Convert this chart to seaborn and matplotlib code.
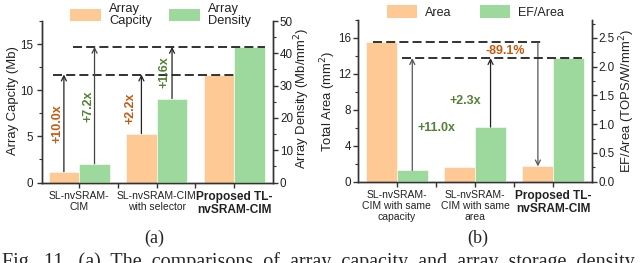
import numpy as np
import pandas as pd
import matplotlib
matplotlib.use("Agg")
import matplotlib.pyplot as plt
import seaborn as sns
from matplotlib.patches import Patch
from matplotlib.ticker import MultipleLocator, FixedLocator

sns.set_style("ticks")
plt.rcParams['font.family'] = ['Liberation Sans', 'DejaVu Sans']

# ---------------- data ----------------
cats_a = ["SL-nvSRAM-\nCIM", "SL-nvSRAM-CIM\nwith selector", "Proposed TL-\nnvSRAM-CIM"]
series_a = ["Array\nCapcity", "Array\nDensity"]
capacity = [1.17, 5.3, 11.7]          # Mb (left axis)
density = [5.8, 26.0, 42.0]           # Mb/mm^2 (right axis)
gain_cap = ["+10.0x", "+2.2x"]
gain_den = ["+7.2x", "+1.6x"]

cats_b = ["SL-nvSRAM-\nCIM with same\ncapacity", "SL-nvSRAM-\nCIM with same\narea", "Proposed TL-\nnvSRAM-CIM"]
series_b = ["Area", "EF/Area"]
area = [15.5, 1.66, 1.70]             # mm^2 (left axis)
ef_area = [0.196, 0.95, 2.15]         # TOPS/W/mm^2 (right axis)
gain_b = ["+11.0x", "+2.3x", "-89.1%"]

ORANGE = "#FFC995"
GREEN = "#9DD99C"
C_OR = "#C55A11"
C_GR = "#548235"
W = 0.79
SP = "#333333"

fig = plt.figure(figsize=(6.4, 2.63), dpi=100)
FW, FH = 640, 263


def px_axes(l, r, t, b):
    return fig.add_axes([l / FW, 1 - b / FH, (r - l) / FW, (b - t) / FH])


def bars(ax, cats, vals, series, k):
    df = pd.DataFrame({"cat": cats, "val": vals, "series": series[k]})
    sns.barplot(data=df, x="cat", y="val", hue="series", hue_order=series,
                order=cats, palette={series[0]: ORANGE, series[1]: GREEN},
                width=W, gap=0, dodge=True, saturation=1, errorbar=None,
                legend=False, edgecolor="white", linewidth=0.4, ax=ax)


def style(ax, ax2, cats, ylim1, ylim2, maj1, min1, maj2, min2, lpad, bold_last=True):
    for a in (ax, ax2):
        a.spines['top'].set_visible(False)
        for s in ('left', 'right', 'bottom'):
            a.spines[s].set_color(SP)
            a.spines[s].set_linewidth(1.0)
        a.set_xlabel("")
        a.set_ylabel("")
    ax.set_xlim(-0.48, 2.5)
    ax.set_ylim(*ylim1)
    ax2.set_ylim(*ylim2)
    ax.yaxis.set_major_locator(MultipleLocator(maj1))
    ax.yaxis.set_minor_locator(MultipleLocator(min1))
    ax2.yaxis.set_major_locator(MultipleLocator(maj2))
    ax2.yaxis.set_minor_locator(MultipleLocator(min2))
    ax.xaxis.set_major_locator(FixedLocator([0, 1, 2]))
    ax.xaxis.set_minor_locator(FixedLocator([0.5, 1.5]))
    ax.set_xticklabels(cats)
    ax.tick_params(axis='y', which='major', direction='out', length=3.5, width=1, color=SP,
                   labelsize=8.4, pad=lpad, labelcolor='#222')
    ax.tick_params(axis='y', which='minor', direction='out', length=2, width=0.8, color=SP, left=True)
    ax2.tick_params(axis='y', which='major', direction='out', length=3.5, width=1, color=SP,
                    labelsize=8.4, pad=1.5, labelcolor='#222')
    ax2.tick_params(axis='y', which='minor', direction='out', length=2, width=0.8, color=SP, right=True)
    ax.tick_params(axis='x', which='major', direction='out', length=3.5, width=1, color=SP,
                   labelsize=7.5, pad=2.5, labelcolor='#222')
    ax.tick_params(axis='x', which='minor', direction='out', length=3.5, width=1, color=SP, bottom=True)
    ax2.tick_params(axis='x', which='both', bottom=False, labelbottom=False)
    labs = ax.get_xticklabels()
    for t in labs:
        t.set_linespacing(1.15)
    if bold_last:
        labs[-1].set_fontweight('bold')
        labs[-1].set_fontsize(8.6)


def dashed(ax, y, x0, x1):
    ax.plot([x0, x1], [y, y], color="#222222", lw=1.3, ls=(0, (5, 2.3)), zorder=5)


def arrow(ax, x, y0, y1, color="#222222"):
    ax.annotate("", xy=(x, y1), xytext=(x, y0),
                arrowprops=dict(arrowstyle="->", lw=0.9, color=color,
                                shrinkA=0, shrinkB=0, mutation_scale=9), zorder=6)


off = W / 4  # half of one bar width: bar centre offset from group centre

# ---------------- panel (a) ----------------
axa = px_axes(42, 273, 21, 182.5)
bars(axa, cats_a, capacity, series_a, 0)
axa2 = axa.twinx()
bars(axa2, cats_a, density, series_a, 1)
style(axa, axa2, cats_a, (0, 17.5), (0, 50), 5, 2.5, 10, 5, 3)

dashed(axa2, density[2], -0.08, 2 + 2 * off)
dashed(axa, capacity[2], -0.335, 2.0)
arrow(axa, 0 - off, capacity[0], capacity[2])
arrow(axa2, 0 + off, density[0], density[2], color="#444444")
arrow(axa, 1 - off, capacity[1], capacity[2])
arrow(axa2, 1 + off, density[1], density[2])
tk = dict(rotation=90, ha='center', va='center', fontsize=9, fontweight='bold', zorder=7)
axa.text(-0.284, 6.4, gain_cap[0], color=C_OR, **tk)
axa.text(0.116, 8.26, gain_den[0], color=C_GR, **tk)
axa.text(0.658, 8.05, gain_cap[1], color=C_OR, **tk)
axa.text(1.097, 11.93, gain_den[1], color=C_GR, **tk)

fig.text(13 / FW, 1 - 101 / FH, "Array Capcity (Mb)", rotation=90, ha='center', va='center',
         fontsize=9.4, color='#222')
fig.text(302 / FW, 1 - 98 / FH, "Array Density (Mb/mm$^2$)", rotation=90, ha='center',
         va='center', fontsize=9.4, color='#222')

hand_a = [Patch(facecolor=ORANGE, edgecolor='none'), Patch(facecolor=GREEN, edgecolor='none')]
lega = fig.legend(hand_a, series_a, loc='upper left', bbox_to_anchor=(70 / FW, 1 - 3 / FH),
                  ncol=2, frameon=False, fontsize=9.3, handlelength=2.4, handleheight=1.12,
                  handletextpad=0.64, columnspacing=1.28, borderpad=0, borderaxespad=0)
for t in lega.get_texts():
    t.set_linespacing(0.95)
    t.set_color('#222')

# ---------------- panel (b) ----------------
axb = px_axes(357.7, 591.7, 20, 181.7)
bars(axb, cats_b, area, series_b, 0)
axb2 = axb.twinx()
bars(axb2, cats_b, ef_area, series_b, 1)
style(axb, axb2, cats_b, (0, 18), (0, 2.8125), 4, 2, 0.5, 0.25, 1.5)
axb.set_xlim(-0.5, 2.49)
axb2.yaxis.set_major_formatter(matplotlib.ticker.FormatStrFormatter('%.1f'))

dashed(axb, area[0], -0.30, 1.87)
dashed(axb2, ef_area[2], 0.064, 2.36)
arrow(axb2, 0 + off, ef_area[0], ef_area[2], color="#555555")
arrow(axb2, 1 + off, ef_area[1], ef_area[2])
arrow(axb, 2 - off, area[0], area[2], color="#555555")
tb = dict(ha='center', va='center', fontsize=9, fontweight='bold', zorder=7)
axb.text(0.51, 6.0, gain_b[0], color=C_GR, **tb)
axb.text(0.872, 8.94, gain_b[1], color=C_GR, **tb)
axb.text(1.383, 14.5, gain_b[2], color=C_OR, **tb)

fig.text(328 / FW, 1 - 101 / FH, "Total Area (mm$^2$)", rotation=90, ha='center', va='center',
         fontsize=9.4, color='#222')
fig.text(626.7 / FW, 1 - 101 / FH, "EF/Area (TOPS/W/mm$^2$)", rotation=90, ha='center',
         va='center', fontsize=9.4, color='#222')

hand_b = [Patch(facecolor=ORANGE, edgecolor='none'), Patch(facecolor=GREEN, edgecolor='none')]
legb = fig.legend(hand_b, series_b, loc='upper left', bbox_to_anchor=(386.7 / FW, 1 - 5.5 / FH),
                  ncol=2, frameon=False, fontsize=9.0, handlelength=2.4, handleheight=1.12,
                  handletextpad=0.64, columnspacing=2.3, borderpad=0, borderaxespad=0)
for t in legb.get_texts():
    t.set_color('#222')

# ---------------- captions ----------------
serif = ['Liberation Serif', 'DejaVu Serif']
fig.text(154 / FW, 1 - 238 / FH, "(a)", ha='center', va='center', fontsize=13, family=serif)
fig.text(478 / FW, 1 - 238 / FH, "(b)", ha='center', va='center', fontsize=13, family=serif)
fig.text(2 / FW, 1 - 252 / FH,
         "Fig.  11.  (a)  The  comparisons  of  array  capacity  and  array  storage  density",
         ha='left', va='top', fontsize=14.5, family=serif)

fig.savefig("out.png", dpi=100)
